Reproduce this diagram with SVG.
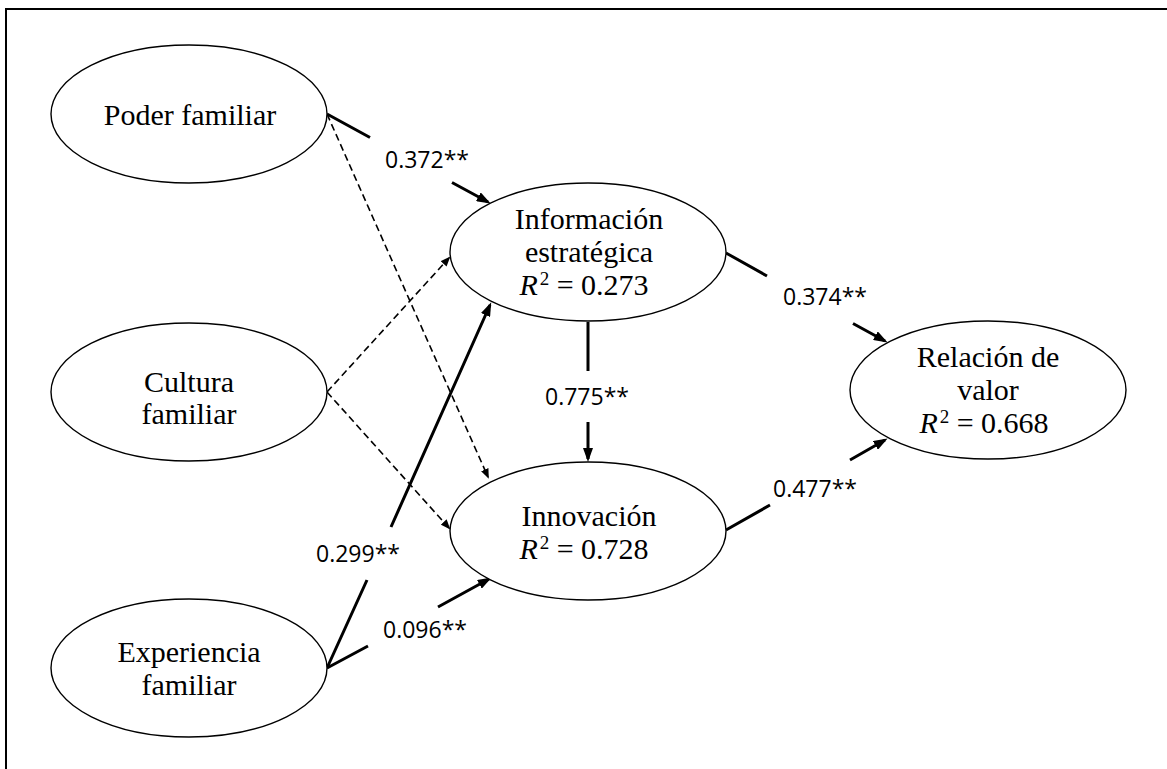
<svg xmlns="http://www.w3.org/2000/svg" width="1167" height="769" viewBox="0 0 1167 769">
  <style>
    .node ellipse { fill: #fff; stroke: #000; stroke-width: 1.4; }
    .node text { font-family: "Liberation Serif", "Times New Roman", serif; font-size: 30px; fill: #000; text-anchor: middle; }
    .node .it { font-style: italic; }
    .node .sup { font-size: 19px; }
    .solid { fill: none; stroke: #000; stroke-width: 3; marker-end: url(#head); }
    .dash { fill: none; stroke: #000; stroke-width: 1.6; stroke-dasharray: 7 4; marker-end: url(#headSmall); }
    .coef { font-family: "Open Sans", "Liberation Sans", sans-serif; font-size: 23px; fill: #000; }
  </style>
  <defs>
    <marker id="head" viewBox="0 0 14 10" refX="11" refY="5" markerWidth="14" markerHeight="10" markerUnits="userSpaceOnUse" orient="auto">
      <path d="M0,0 L14,5 L0,10 z" fill="#000"/>
    </marker>
    <marker id="headSmall" viewBox="0 0 10 8" refX="8" refY="4" markerWidth="10" markerHeight="8" markerUnits="userSpaceOnUse" orient="auto">
      <path d="M0,0 L10,4 L0,8 z" fill="#000"/>
    </marker>
  </defs>

  <rect x="6" y="9" width="1200" height="800" fill="#fff" stroke="#000" stroke-width="2"/>

  <!-- paths between constructs -->
  <g id="connectors">
    <path class="dash" d="M327,114 L488,477"/>
    <path class="dash" d="M327,392 L449,258"/>
    <path class="dash" d="M327,392 L449,528"/>
    <path class="solid" d="M327,114 L370,137.5 M452,182.5 L488,202"/>
    <path class="solid" d="M327,668 L367,580 M391,527 L490,305"/>
    <path class="solid" d="M327,668 L368,646 M438,607 L489,579"/>
    <path class="solid" d="M588,322 L588,371 M588,422 L588,459"/>
    <path class="solid" d="M726,253 L767,276 M853,323.5 L885,341"/>
    <path class="solid" d="M726,530 L770,505 M850,460 L885,440"/>
  </g>

  <g id="labels">
    <text class="coef" x="385" y="168">0.372**</text>
    <text class="coef" x="783" y="305">0.374**</text>
    <text class="coef" x="545" y="405">0.775**</text>
    <text class="coef" x="773" y="497">0.477**</text>
    <text class="coef" x="316" y="562">0.299**</text>
    <text class="coef" x="383" y="638">0.096**</text>
  </g>

  <g id="poder" class="node">
    <ellipse cx="189" cy="114" rx="138" ry="69"/>
    <text x="190" y="125">Poder familiar</text>
  </g>

  <g id="cultura" class="node">
    <ellipse cx="189" cy="392" rx="138" ry="69"/>
    <text x="189" y="392">Cultura</text>
    <text x="189" y="424">familiar</text>
  </g>

  <g id="experiencia" class="node">
    <ellipse cx="189" cy="668" rx="138" ry="69"/>
    <text x="189" y="662">Experiencia</text>
    <text x="189" y="695">familiar</text>
  </g>

  <g id="informacion" class="node">
    <ellipse cx="588" cy="252" rx="138" ry="69"/>
    <text x="589" y="229">Información</text>
    <text x="589" y="262">estratégica</text>
    <text x="584" y="295"><tspan class="it">R</tspan><tspan class="sup" dx="2" dy="-10">2</tspan><tspan dy="10"> = 0.273</tspan></text>
  </g>

  <g id="innovacion" class="node">
    <ellipse cx="588" cy="531" rx="138" ry="69"/>
    <text x="589" y="526">Innovación</text>
    <text x="584" y="559"><tspan class="it">R</tspan><tspan class="sup" dx="2" dy="-10">2</tspan><tspan dy="10"> = 0.728</tspan></text>
  </g>

  <g id="relacion" class="node">
    <ellipse cx="988" cy="390" rx="138" ry="69"/>
    <text x="988" y="367">Relación de</text>
    <text x="988" y="400">valor</text>
    <text x="984" y="433"><tspan class="it">R</tspan><tspan class="sup" dx="2" dy="-10">2</tspan><tspan dy="10"> = 0.668</tspan></text>
  </g>
</svg>
